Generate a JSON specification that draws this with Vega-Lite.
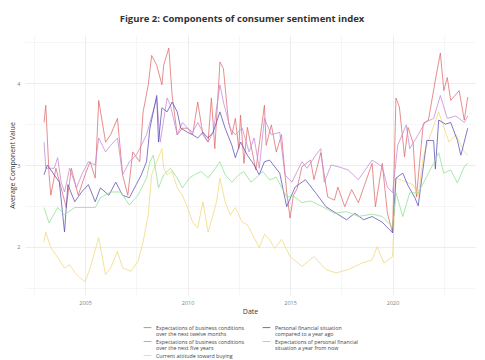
{
  "$schema": "https://vega.github.io/schema/vega-lite/v6.json",
  "autosize": {"type": "none"},
  "width": 450,
  "height": 260,
  "padding": {"left": 25, "top": 35, "right": 10, "bottom": 65},
  "background": "white",
  "title": {"text": "Figure 2: Components of consumer sentiment index", "fontSize": 9.5, "fontWeight": "bold", "color": "#333333", "font": "Open Sans", "anchor": "middle", "dx": -8, "offset": 12},
  "config": {"view": {"stroke": null}, "font": "Open Sans", "style": {"guide-label": {"lineHeight": 6}}},
  "data": {"values": [
    {"s":"a","d":"2003-01","v":3.52},{"s":"a","d":"2003-02","v":3.73},{"s":"a","d":"2003-04","v":2.88},{"s":"a","d":"2003-05","v":2.63},{"s":"a","d":"2003-08","v":2.96},{"s":"a","d":"2003-11","v":2.72},
    {"s":"a","d":"2004-02","v":2.48},{"s":"a","d":"2004-05","v":2.96},{"s":"a","d":"2004-09","v":2.63},{"s":"a","d":"2005-01","v":2.88},{"s":"a","d":"2005-04","v":3.04},{"s":"a","d":"2005-07","v":2.84},
    {"s":"a","d":"2005-09","v":3.79},{"s":"a","d":"2006-01","v":3.28},{"s":"a","d":"2006-04","v":3.37},{"s":"a","d":"2006-08","v":3.57},{"s":"a","d":"2006-11","v":2.88},{"s":"a","d":"2007-02","v":2.63},
    {"s":"a","d":"2007-05","v":3.16},{"s":"a","d":"2007-09","v":3.04},{"s":"a","d":"2007-11","v":3.65},{"s":"a","d":"2008-02","v":3.98},{"s":"a","d":"2008-04","v":4.34},{"s":"a","d":"2008-07","v":4.22},
    {"s":"a","d":"2008-10","v":3.98},{"s":"a","d":"2008-11","v":4.22},{"s":"a","d":"2009-02","v":4.43},{"s":"a","d":"2009-04","v":3.85},{"s":"a","d":"2009-07","v":3.37},{"s":"a","d":"2009-10","v":3.45},
    {"s":"a","d":"2010-01","v":3.45},{"s":"a","d":"2010-04","v":3.37},{"s":"a","d":"2010-07","v":3.77},{"s":"a","d":"2010-10","v":3.37},{"s":"a","d":"2011-01","v":3.28},{"s":"a","d":"2011-03","v":3.82},
    {"s":"a","d":"2011-05","v":3.2},{"s":"a","d":"2011-08","v":4.26},{"s":"a","d":"2011-10","v":4.18},{"s":"a","d":"2012-01","v":3.52},{"s":"a","d":"2012-03","v":3.37},{"s":"a","d":"2012-05","v":3.57},
    {"s":"a","d":"2012-07","v":3.2},{"s":"a","d":"2012-08","v":3.61},{"s":"a","d":"2012-10","v":3.02},{"s":"a","d":"2012-12","v":3.46},{"s":"a","d":"2013-05","v":2.94},{"s":"a","d":"2013-10","v":3.73},
    {"s":"a","d":"2013-11","v":3.24},{"s":"a","d":"2014-02","v":3.49},{"s":"a","d":"2014-05","v":3.16},{"s":"a","d":"2014-08","v":3.37},{"s":"a","d":"2014-11","v":2.67},{"s":"a","d":"2015-01","v":2.35},
    {"s":"a","d":"2015-03","v":2.63},{"s":"a","d":"2015-05","v":2.7},{"s":"a","d":"2015-08","v":2.98},{"s":"a","d":"2016-01","v":3.06},{"s":"a","d":"2016-03","v":2.82},{"s":"a","d":"2016-07","v":3.15},
    {"s":"a","d":"2016-11","v":2.61},{"s":"a","d":"2017-03","v":2.57},{"s":"a","d":"2017-05","v":2.73},{"s":"a","d":"2017-09","v":2.49},{"s":"a","d":"2018-01","v":2.7},{"s":"a","d":"2018-05","v":2.54},
    {"s":"a","d":"2019-01","v":3.02},{"s":"a","d":"2019-03","v":2.49},{"s":"a","d":"2019-07","v":3.02},{"s":"a","d":"2019-10","v":2.41},{"s":"a","d":"2020-01","v":2.17},{"s":"a","d":"2020-03","v":3.82},
    {"s":"a","d":"2020-05","v":3.71},{"s":"a","d":"2020-08","v":3.1},{"s":"a","d":"2020-10","v":3.46},{"s":"a","d":"2021-01","v":3.27},{"s":"a","d":"2021-03","v":2.61},{"s":"a","d":"2021-07","v":3.51},
    {"s":"a","d":"2021-10","v":3.55},{"s":"a","d":"2022-02","v":4.04},{"s":"a","d":"2022-05","v":4.37},{"s":"a","d":"2022-07","v":3.91},{"s":"a","d":"2022-09","v":4.07},{"s":"a","d":"2022-11","v":3.79},
    {"s":"a","d":"2023-04","v":3.91},{"s":"a","d":"2023-07","v":3.55},{"s":"a","d":"2023-09","v":3.83},

    {"s":"b","d":"2003-01","v":3.28},{"s":"b","d":"2003-02","v":2.96},{"s":"b","d":"2003-07","v":2.96},{"s":"b","d":"2003-09","v":3.09},{"s":"b","d":"2003-11","v":2.79},{"s":"b","d":"2004-01","v":2.67},
    {"s":"b","d":"2004-04","v":2.96},{"s":"b","d":"2004-08","v":2.72},{"s":"b","d":"2004-11","v":2.88},{"s":"b","d":"2005-03","v":3.04},{"s":"b","d":"2005-07","v":3.0},{"s":"b","d":"2005-09","v":3.33},
    {"s":"b","d":"2006-01","v":3.16},{"s":"b","d":"2006-04","v":3.24},{"s":"b","d":"2006-08","v":3.33},{"s":"b","d":"2006-11","v":2.88},{"s":"b","d":"2007-03","v":3.04},{"s":"b","d":"2007-07","v":3.12},
    {"s":"b","d":"2007-10","v":3.24},{"s":"b","d":"2008-01","v":3.37},{"s":"b","d":"2008-07","v":3.82},{"s":"b","d":"2008-09","v":3.28},{"s":"b","d":"2009-01","v":3.82},{"s":"b","d":"2009-03","v":3.73},
    {"s":"b","d":"2009-07","v":3.37},{"s":"b","d":"2009-10","v":3.52},{"s":"b","d":"2010-01","v":3.45},{"s":"b","d":"2010-04","v":3.4},{"s":"b","d":"2010-07","v":3.52},{"s":"b","d":"2010-10","v":3.4},
    {"s":"b","d":"2011-01","v":3.28},{"s":"b","d":"2011-04","v":3.4},{"s":"b","d":"2011-08","v":3.98},{"s":"b","d":"2011-10","v":3.77},{"s":"b","d":"2012-02","v":3.45},{"s":"b","d":"2012-05","v":3.37},
    {"s":"b","d":"2012-09","v":3.45},{"s":"b","d":"2013-01","v":3.16},{"s":"b","d":"2013-04","v":3.33},{"s":"b","d":"2013-07","v":2.96},{"s":"b","d":"2013-10","v":3.57},{"s":"b","d":"2014-02","v":3.37},
    {"s":"b","d":"2014-07","v":3.4},{"s":"b","d":"2014-10","v":2.88},{"s":"b","d":"2015-02","v":2.79},{"s":"b","d":"2015-08","v":3.04},{"s":"b","d":"2015-11","v":2.96},{"s":"b","d":"2016-04","v":3.12},
    {"s":"b","d":"2016-07","v":3.2},{"s":"b","d":"2016-09","v":2.79},{"s":"b","d":"2017-01","v":3.0},{"s":"b","d":"2017-05","v":2.98},{"s":"b","d":"2017-11","v":2.94},{"s":"b","d":"2018-05","v":2.82},
    {"s":"b","d":"2019-01","v":3.06},{"s":"b","d":"2019-07","v":2.98},{"s":"b","d":"2019-10","v":2.73},{"s":"b","d":"2020-01","v":2.66},{"s":"b","d":"2020-04","v":3.24},{"s":"b","d":"2020-09","v":3.49},
    {"s":"b","d":"2020-11","v":3.2},{"s":"b","d":"2021-04","v":3.37},{"s":"b","d":"2021-08","v":3.52},{"s":"b","d":"2022-01","v":3.57},{"s":"b","d":"2022-05","v":3.85},{"s":"b","d":"2022-09","v":3.57},
    {"s":"b","d":"2023-02","v":3.6},{"s":"b","d":"2023-07","v":3.52},{"s":"b","d":"2023-09","v":3.6},

    {"s":"c","d":"2003-01","v":2.06},{"s":"c","d":"2003-02","v":2.18},{"s":"c","d":"2003-05","v":1.99},{"s":"c","d":"2003-09","v":1.87},{"s":"c","d":"2004-01","v":1.74},{"s":"c","d":"2004-04","v":1.78},
    {"s":"c","d":"2004-08","v":1.66},{"s":"c","d":"2005-01","v":1.57},{"s":"c","d":"2005-04","v":1.74},{"s":"c","d":"2005-09","v":2.11},{"s":"c","d":"2006-01","v":1.66},{"s":"c","d":"2006-04","v":1.74},
    {"s":"c","d":"2006-08","v":1.94},{"s":"c","d":"2006-11","v":1.74},{"s":"c","d":"2007-04","v":1.7},{"s":"c","d":"2007-08","v":1.82},{"s":"c","d":"2007-11","v":2.06},{"s":"c","d":"2008-02","v":2.39},
    {"s":"c","d":"2008-04","v":2.88},{"s":"c","d":"2008-07","v":3.04},{"s":"c","d":"2008-10","v":3.2},{"s":"c","d":"2008-11","v":2.96},{"s":"c","d":"2009-01","v":2.88},{"s":"c","d":"2009-04","v":2.92},
    {"s":"c","d":"2009-07","v":2.72},{"s":"c","d":"2009-10","v":2.63},{"s":"c","d":"2010-01","v":2.48},{"s":"c","d":"2010-04","v":2.3},{"s":"c","d":"2010-07","v":2.23},{"s":"c","d":"2010-10","v":2.55},
    {"s":"c","d":"2011-01","v":2.18},{"s":"c","d":"2011-04","v":2.39},{"s":"c","d":"2011-06","v":2.55},{"s":"c","d":"2011-08","v":2.84},{"s":"c","d":"2011-11","v":2.55},{"s":"c","d":"2012-02","v":2.39},
    {"s":"c","d":"2012-05","v":2.48},{"s":"c","d":"2012-09","v":2.3},{"s":"c","d":"2012-12","v":2.27},{"s":"c","d":"2013-04","v":2.11},{"s":"c","d":"2013-07","v":1.99},{"s":"c","d":"2013-10","v":2.15},
    {"s":"c","d":"2014-01","v":2.09},{"s":"c","d":"2014-04","v":1.98},{"s":"c","d":"2014-08","v":2.09},{"s":"c","d":"2015-01","v":1.88},{"s":"c","d":"2015-08","v":1.76},{"s":"c","d":"2016-03","v":1.88},
    {"s":"c","d":"2016-10","v":1.72},{"s":"c","d":"2017-04","v":1.68},{"s":"c","d":"2017-11","v":1.72},{"s":"c","d":"2018-07","v":1.8},{"s":"c","d":"2019-01","v":1.84},{"s":"c","d":"2019-04","v":2.0},
    {"s":"c","d":"2019-08","v":1.8},{"s":"c","d":"2020-01","v":1.88},{"s":"c","d":"2020-03","v":2.84},{"s":"c","d":"2020-08","v":2.8},{"s":"c","d":"2021-01","v":2.76},{"s":"c","d":"2021-04","v":2.62},
    {"s":"c","d":"2021-07","v":3.1},{"s":"c","d":"2021-10","v":3.3},{"s":"c","d":"2022-04","v":3.65},{"s":"c","d":"2022-10","v":3.28},{"s":"c","d":"2023-02","v":3.37},{"s":"c","d":"2023-07","v":3.16},
    {"s":"c","d":"2023-09","v":3.12},

    {"s":"d","d":"2003-01","v":2.88},{"s":"d","d":"2003-03","v":3.0},{"s":"d","d":"2003-07","v":2.88},{"s":"d","d":"2003-10","v":2.79},{"s":"d","d":"2004-01","v":2.18},{"s":"d","d":"2004-03","v":2.76},
    {"s":"d","d":"2004-07","v":2.55},{"s":"d","d":"2004-11","v":2.67},{"s":"d","d":"2005-03","v":2.76},{"s":"d","d":"2005-07","v":2.55},{"s":"d","d":"2005-10","v":2.72},{"s":"d","d":"2006-03","v":2.63},
    {"s":"d","d":"2006-07","v":2.79},{"s":"d","d":"2006-11","v":2.63},{"s":"d","d":"2007-03","v":2.6},{"s":"d","d":"2007-07","v":2.76},{"s":"d","d":"2007-10","v":2.88},{"s":"d","d":"2008-01","v":3.04},
    {"s":"d","d":"2008-03","v":3.45},{"s":"d","d":"2008-07","v":3.85},{"s":"d","d":"2008-08","v":3.28},{"s":"d","d":"2008-10","v":3.7},{"s":"d","d":"2009-01","v":3.65},{"s":"d","d":"2009-04","v":3.77},
    {"s":"d","d":"2009-07","v":3.65},{"s":"d","d":"2009-09","v":3.45},{"s":"d","d":"2010-01","v":3.4},{"s":"d","d":"2010-04","v":3.37},{"s":"d","d":"2010-07","v":3.33},{"s":"d","d":"2010-10","v":3.4},
    {"s":"d","d":"2011-01","v":3.33},{"s":"d","d":"2011-04","v":3.4},{"s":"d","d":"2011-08","v":3.65},{"s":"d","d":"2011-11","v":3.45},{"s":"d","d":"2012-03","v":3.24},{"s":"d","d":"2012-05","v":3.09},
    {"s":"d","d":"2012-08","v":3.28},{"s":"d","d":"2012-12","v":3.12},{"s":"d","d":"2013-04","v":3.0},{"s":"d","d":"2013-07","v":2.88},{"s":"d","d":"2013-10","v":3.04},{"s":"d","d":"2014-01","v":3.06},
    {"s":"d","d":"2014-07","v":2.9},{"s":"d","d":"2014-11","v":2.49},{"s":"d","d":"2015-04","v":2.73},{"s":"d","d":"2015-10","v":2.82},{"s":"d","d":"2016-04","v":2.66},{"s":"d","d":"2016-10","v":2.49},
    {"s":"d","d":"2017-04","v":2.41},{"s":"d","d":"2017-10","v":2.33},{"s":"d","d":"2018-03","v":2.41},{"s":"d","d":"2018-08","v":2.33},{"s":"d","d":"2019-01","v":2.37},{"s":"d","d":"2019-07","v":2.3},
    {"s":"d","d":"2020-01","v":2.17},{"s":"d","d":"2020-03","v":2.84},{"s":"d","d":"2020-07","v":2.9},{"s":"d","d":"2020-10","v":2.75},{"s":"d","d":"2021-02","v":2.6},{"s":"d","d":"2021-04","v":2.5},
    {"s":"d","d":"2021-09","v":3.3},{"s":"d","d":"2022-01","v":3.3},{"s":"d","d":"2022-02","v":2.95},{"s":"d","d":"2022-04","v":3.55},{"s":"d","d":"2022-08","v":3.5},{"s":"d","d":"2022-11","v":3.52},
    {"s":"d","d":"2023-03","v":3.3},{"s":"d","d":"2023-05","v":3.12},{"s":"d","d":"2023-09","v":3.45},

    {"s":"e","d":"2003-01","v":2.48},{"s":"e","d":"2003-04","v":2.29},{"s":"e","d":"2003-09","v":2.48},{"s":"e","d":"2004-01","v":2.39},{"s":"e","d":"2004-07","v":2.48},{"s":"e","d":"2005-01","v":2.48},
    {"s":"e","d":"2005-07","v":2.48},{"s":"e","d":"2005-10","v":2.6},{"s":"e","d":"2006-04","v":2.67},{"s":"e","d":"2006-10","v":2.67},{"s":"e","d":"2007-03","v":2.51},{"s":"e","d":"2007-08","v":2.63},
    {"s":"e","d":"2008-01","v":2.84},{"s":"e","d":"2008-03","v":3.04},{"s":"e","d":"2008-05","v":3.12},{"s":"e","d":"2008-08","v":2.72},{"s":"e","d":"2008-11","v":2.88},{"s":"e","d":"2009-03","v":2.96},
    {"s":"e","d":"2009-07","v":2.84},{"s":"e","d":"2009-10","v":2.72},{"s":"e","d":"2010-02","v":2.84},{"s":"e","d":"2010-05","v":2.88},{"s":"e","d":"2010-09","v":2.92},{"s":"e","d":"2011-01","v":2.84},
    {"s":"e","d":"2011-04","v":2.92},{"s":"e","d":"2011-08","v":3.04},{"s":"e","d":"2011-11","v":2.88},{"s":"e","d":"2012-03","v":2.79},{"s":"e","d":"2012-07","v":2.88},{"s":"e","d":"2012-10","v":2.92},
    {"s":"e","d":"2013-02","v":2.79},{"s":"e","d":"2013-05","v":2.84},{"s":"e","d":"2013-09","v":2.92},{"s":"e","d":"2014-01","v":2.82},{"s":"e","d":"2014-05","v":2.85},{"s":"e","d":"2014-11","v":2.61},
    {"s":"e","d":"2015-03","v":2.62},{"s":"e","d":"2015-08","v":2.54},{"s":"e","d":"2016-01","v":2.56},{"s":"e","d":"2016-08","v":2.49},{"s":"e","d":"2017-03","v":2.41},{"s":"e","d":"2017-10","v":2.43},
    {"s":"e","d":"2018-05","v":2.37},{"s":"e","d":"2019-01","v":2.4},{"s":"e","d":"2019-07","v":2.37},{"s":"e","d":"2020-01","v":2.24},{"s":"e","d":"2020-03","v":2.66},{"s":"e","d":"2020-07","v":2.37},
    {"s":"e","d":"2020-11","v":2.66},{"s":"e","d":"2021-04","v":2.66},{"s":"e","d":"2021-09","v":2.86},{"s":"e","d":"2022-01","v":3.02},{"s":"e","d":"2022-04","v":3.15},{"s":"e","d":"2022-07","v":2.9},
    {"s":"e","d":"2022-11","v":2.94},{"s":"e","d":"2023-03","v":2.78},{"s":"e","d":"2023-07","v":2.98},{"s":"e","d":"2023-09","v":3.02}
  ]},
  "mark": {"type": "line", "strokeWidth": 0.9, "opacity": 0.85},
  "encoding": {
    "x": {"field": "d", "type": "temporal",
      "scale": {"type": "utc", "domain": [{"year": 2002, "month": 1, "date": 27, "utc": true}, {"year": 2024, "month": 1, "date": 8, "utc": true}]},
      "axis": {"title": "Date", "titleFontSize": 7, "titleFontWeight": "normal", "titleColor": "#333333", "titlePadding": 2,
        "values": [{"year": 2002, "month": 7, "date": 1, "utc": true}, {"year": 2005, "month": 1, "date": 1, "utc": true}, {"year": 2007, "month": 7, "date": 1, "utc": true}, {"year": 2010, "month": 1, "date": 1, "utc": true}, {"year": 2012, "month": 7, "date": 1, "utc": true}, {"year": 2015, "month": 1, "date": 1, "utc": true}, {"year": 2017, "month": 7, "date": 1, "utc": true}, {"year": 2020, "month": 1, "date": 1, "utc": true}, {"year": 2022, "month": 7, "date": 1, "utc": true}],
        "labelExpr": "utcmonth(datum.value) == 0 ? utcFormat(datum.value, '%Y') : ''",
        "labelFontSize": 5.5, "labelColor": "#808080", "labelPadding": 5, "labelFlush": false,
        "domain": false, "ticks": false, "gridColor": "#e8e8e8",
        "gridWidth": {"condition": {"test": "utcmonth(datum.value) == 0", "value": 0.8}, "value": 0.4}}},
    "y": {"field": "v", "type": "quantitative",
      "scale": {"domain": [1.41, 4.59], "nice": false, "zero": false},
      "axis": {"title": "Average Component Value", "titleFontSize": 7, "titleFontWeight": "normal", "titleColor": "#333333", "titlePadding": 1,
        "values": [1.5, 2, 2.5, 3, 3.5, 4, 4.5],
        "labelExpr": "datum.value % 1 == 0 ? format(datum.value, 'd') : ''",
        "labelFontSize": 5.5, "labelColor": "#808080", "labelPadding": 5,
        "domain": false, "ticks": false, "gridColor": "#e8e8e8",
        "gridWidth": {"condition": {"test": "datum.value % 1 == 0", "value": 0.8}, "value": 0.4}}},
    "color": {"field": "s", "type": "nominal",
      "scale": {"domain": ["a", "b", "c", "d", "e"], "range": ["#e06a6a", "#c487d8", "#f0d77a", "#5a4fb5", "#8fdf8f"]},
      "legend": {"orient": "none", "legendX": 118, "legendY": 288, "columns": 2, "title": null,
        "symbolType": "stroke", "symbolSize": 60, "symbolStrokeWidth": 1, "columnPadding": 16, "rowPadding": 0,
        "labelFontSize": 5.3, "labelColor": "#444444", "labelLimit": 200,
        "labelExpr": "datum.value == 'a' ? ['Expectations of business conditions', 'over the next twelve months'] : datum.value == 'b' ? ['Expectations of business conditions', 'over the next five years'] : datum.value == 'c' ? ['Current attitude toward buying', 'major household items'] : datum.value == 'd' ? ['Personal financial situation', 'compared to a year ago'] : ['Expectations of personal financial', 'situation a year from now']"}}
  }
}
